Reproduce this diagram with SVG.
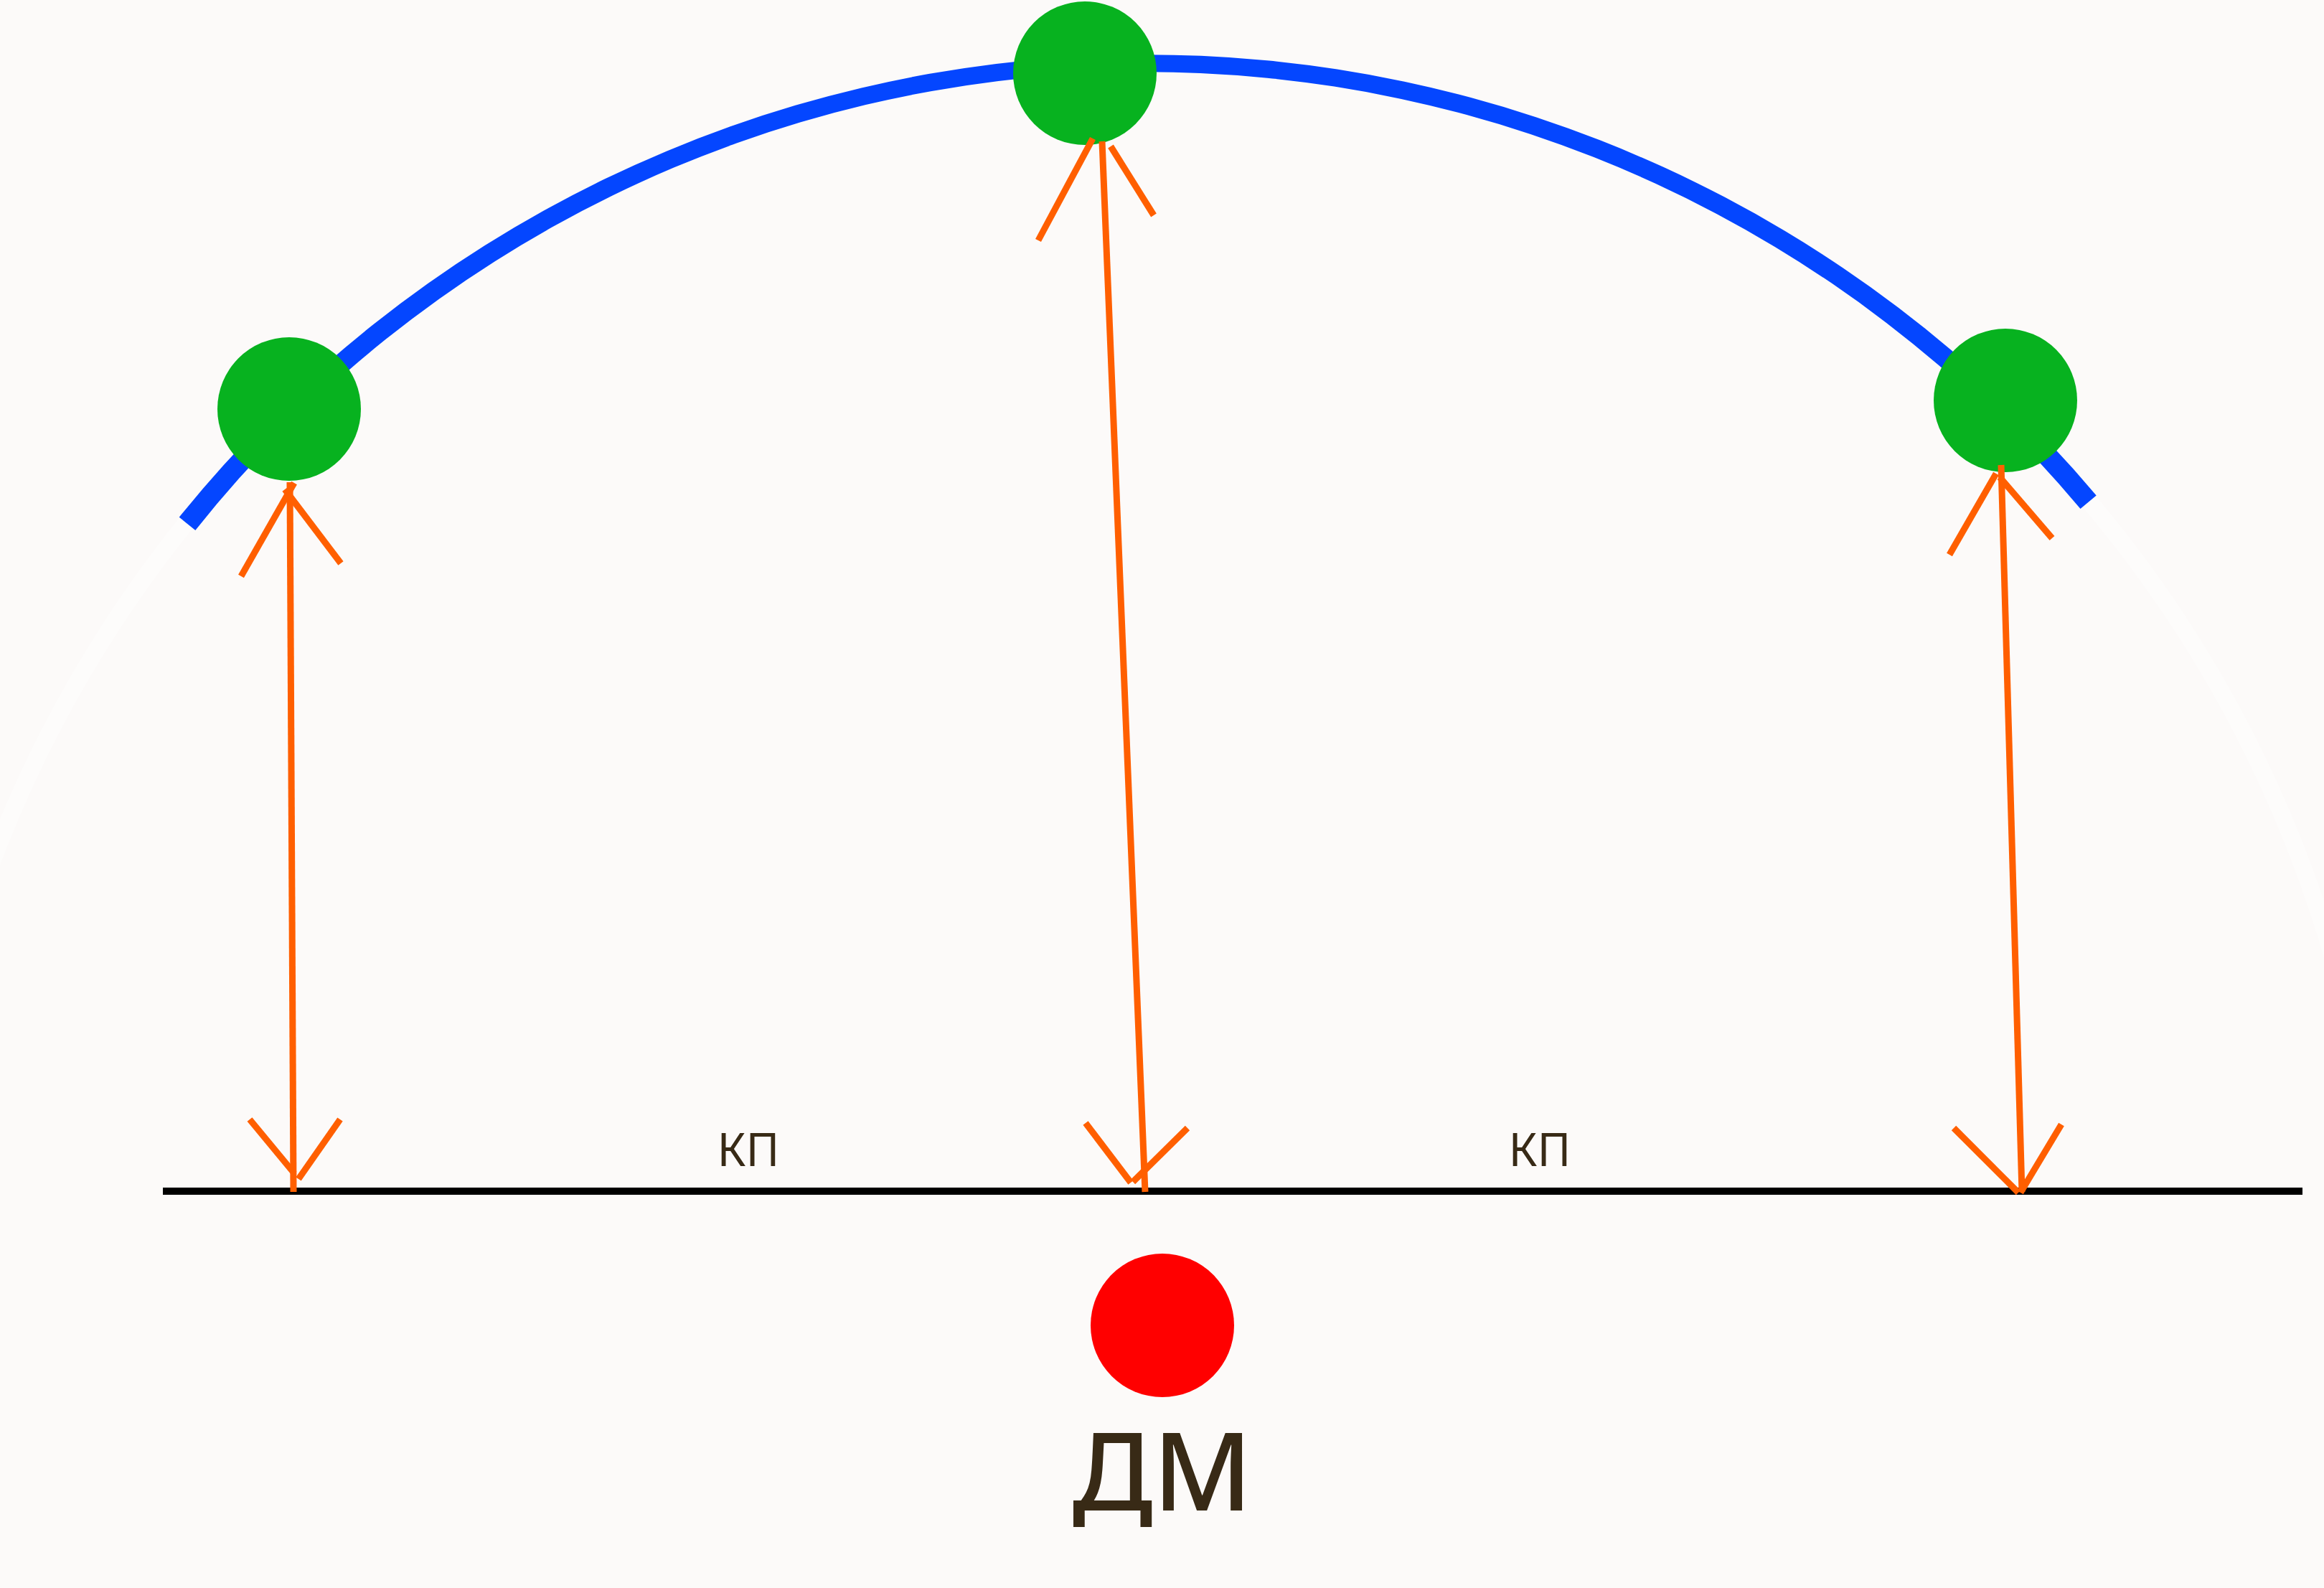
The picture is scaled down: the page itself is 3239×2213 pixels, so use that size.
<svg xmlns="http://www.w3.org/2000/svg" width="3239" height="2213" viewBox="0 0 3239 2213">
  <style>
    .bg { fill: #fcfaf9; }
    .ghost { fill: none; stroke: #ffffff; stroke-width: 24; stroke-opacity: 0.35; }
    .arc { fill: #0446ff; }
    .base { stroke: #000000; stroke-width: 10; }
    .sat { fill: #07b21f; }
    .target { fill: #ff0000; }
    .ray { stroke: #ff5f00; stroke-width: 9; stroke-linecap: butt; fill: none; }
    .lbl { font-family: "Noto Sans", "Open Sans", "DejaVu Sans", sans-serif; fill: #382a16; text-anchor: middle; }
  </style>
  <rect class="bg" x="0" y="0" width="3239" height="2213"/>

  <!-- faint continuation of the orbit -->
  <circle class="ghost" cx="1598" cy="1809" r="1720"/>

  <!-- orbit arc -->
  <path id="orbit" class="arc" d="M 249.7 720.7 A 1733 1733 0 0 1 2921.7 690.4 L 2899.5 709.1 A 1695.5 1695.5 0 0 0 272.3 738.9 Z"/>

  <!-- ground line -->
  <line id="ground" class="base" x1="227" y1="1660" x2="3209" y2="1660"/>

  <g id="sat-left"><circle class="sat" cx="403" cy="570" r="100"/></g>
  <g id="sat-top"><circle class="sat" cx="1512" cy="102" r="100"/></g>
  <g id="sat-right"><circle class="sat" cx="2795" cy="558" r="100"/></g>

  <g id="target">
    <circle class="target" cx="1620" cy="1847" r="100"/>
    <text class="lbl" x="1620" y="2105" font-size="151" font-weight="500">ДМ</text>
  </g>

  <g id="label-kp1"><text class="lbl" x="1043" y="1625" font-size="64">КП</text></g>
  <g id="label-kp2"><text class="lbl" x="2146" y="1625" font-size="64">КП</text></g>

  <g id="connectors">
    <g id="link-left">
      <line class="ray" x1="404" y1="672" x2="409" y2="1661"/>
      <line class="ray" x1="410" y1="673" x2="336" y2="803"/>
      <line class="ray" x1="397" y1="682" x2="475" y2="785"/>
      <line class="ray" x1="348" y1="1560" x2="410" y2="1635"/>
      <line class="ray" x1="474" y1="1560" x2="416" y2="1643"/>
    </g>
    <g id="link-top">
      <line class="ray" x1="1536" y1="197" x2="1596" y2="1661"/>
      <line class="ray" x1="1523" y1="193" x2="1447" y2="335"/>
      <line class="ray" x1="1548" y1="204" x2="1608" y2="300"/>
      <line class="ray" x1="1513" y1="1565" x2="1576" y2="1648"/>
      <line class="ray" x1="1655" y1="1572" x2="1579" y2="1647"/>
    </g>
    <g id="link-right">
      <line class="ray" x1="2789" y1="648" x2="2818" y2="1661"/>
      <line class="ray" x1="2782" y1="660" x2="2717" y2="773"/>
      <line class="ray" x1="2787" y1="665" x2="2860" y2="750"/>
      <line class="ray" x1="2723" y1="1572" x2="2813" y2="1662"/>
      <line class="ray" x1="2873" y1="1567" x2="2816" y2="1662"/>
    </g>
  </g>
</svg>
